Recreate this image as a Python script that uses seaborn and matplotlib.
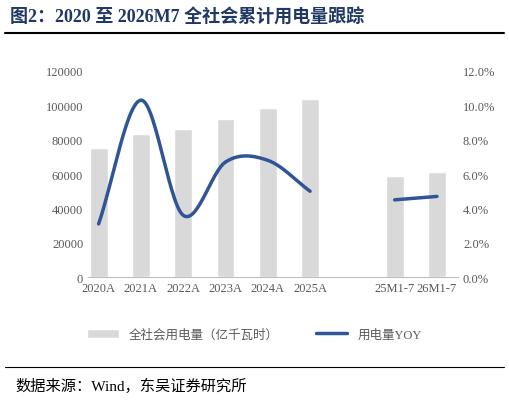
import numpy as np
import pandas as pd
import matplotlib.pyplot as plt
import seaborn as sns
from matplotlib.ticker import FuncFormatter

sns.set_style("white")
plt.rcParams['font.family'] = ['Liberation Serif', 'Noto Sans CJK SC', 'DejaVu Sans']

categories = ['2020A', '2021A', '2022A', '2023A', '2024A', '2025A', '', '25M1-7', '26M1-7']
consumption = [75110, 83128, 86372, 92241, 98521, 103682, np.nan, 58633, 61200]
yoy = [3.1, 10.3, 3.6, 6.7, 6.8, 5.0, np.nan, 4.5, 4.7]

def smooth(xs, ys, n=30):
    # Catmull-Rom curve through the points
    xs, ys = np.asarray(xs, float), np.asarray(ys, float)
    px = np.concatenate([[2 * xs[0] - xs[1]], xs, [2 * xs[-1] - xs[-2]]])
    py = np.concatenate([[2 * ys[0] - ys[1]], ys, [2 * ys[-1] - ys[-2]]])
    ox, oy = [], []
    t = np.linspace(0, 1, n)
    for i in range(1, len(px) - 2):
        for p, o in ((px, ox), (py, oy)):
            p0, p1, p2, p3 = p[i - 1], p[i], p[i + 1], p[i + 2]
            o.extend(0.5 * (2 * p1 + (-p0 + p2) * t + (2 * p0 - 5 * p1 + 4 * p2 - p3) * t ** 2
                            + (-p0 + 3 * p1 - 3 * p2 + p3) * t ** 3))
    return ox, oy

df = pd.DataFrame({'cat': categories, 'val': consumption})

fig = plt.figure(figsize=(5.09, 4.02), dpi=100)
ax = fig.add_axes([0.173, 0.308, 0.727, 0.513])
sns.barplot(data=df, x='cat', y='val', color='#d9d9d9', width=0.42, ax=ax,
            label='全社会用电量（亿千瓦时）', saturation=1, legend=False)
if ax.get_legend():
    ax.get_legend().remove()
ax.set_ylim(0, 120000)
ax.set_yticks(range(0, 120001, 20000))
ax.set_xlim(-0.25, 8.5)
ax.set_xlabel('')
ax.set_ylabel('')
ax.tick_params(axis='both', labelsize=9, colors='#595959', length=0)
for s in ['top', 'right', 'left']:
    ax.spines[s].set_visible(False)
ax.spines['bottom'].set_color('#bfbfbf')

ax2 = ax.twinx()
color = '#2f5597'
segs = [(0, 6), (7, 9)]
for k, (a, b) in enumerate(segs):
    xs, ys = smooth(range(a, b), yoy[a:b]) if b - a > 2 else (list(range(a, b)), yoy[a:b])
    ax2.plot(xs, ys, color=color, lw=2.5, label='用电量YOY' if k == 0 else None)
ax2.set_ylim(0, 12)
ax2.set_yticks(np.arange(0, 12.1, 2))
ax2.yaxis.set_major_formatter(FuncFormatter(lambda v, p: f'{v:.1f}%'))
ax2.tick_params(axis='y', labelsize=9, colors='#595959', length=0)
for s in ['top', 'right', 'left', 'bottom']:
    ax2.spines[s].set_visible(False)

h1, l1 = ax.get_legend_handles_labels()
h2, l2 = ax2.get_legend_handles_labels()
fig.legend(h1 + h2, l1 + l2, loc='center', bbox_to_anchor=(0.5, 0.165), ncol=2,
           frameon=False, fontsize=9, labelcolor='#595959', columnspacing=3,
           handlelength=2.5)

fig.text(0.02, 0.955, '图2：2020 至 2026M7 全社会累计用电量跟踪', fontsize=13,
         fontweight='bold', color='#1f3864', va='center')
fig.add_artist(plt.Line2D([0.01, 0.99], [0.915, 0.915], color='black', lw=1.5))
fig.add_artist(plt.Line2D([0.01, 0.99], [0.085, 0.085], color='black', lw=0.8))
fig.text(0.03, 0.04, '数据来源：Wind，东吴证券研究所', fontsize=11, color='black', va='center')

fig.savefig('out.png', dpi=100)
